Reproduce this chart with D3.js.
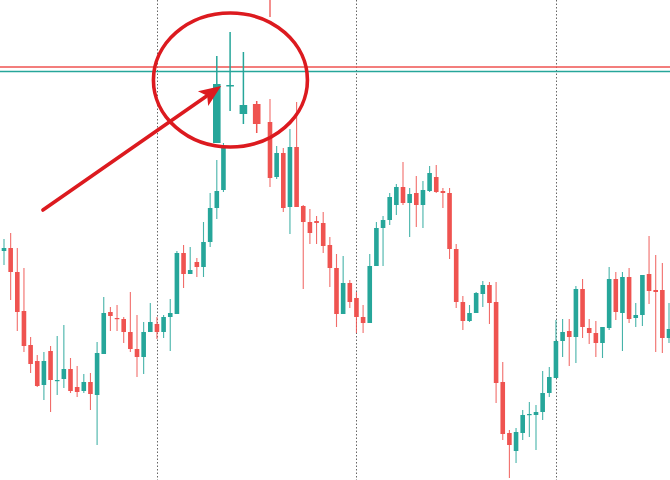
<!DOCTYPE html>
<html><head><meta charset="utf-8">
<script src="https://cdn.jsdelivr.net/npm/d3@7/dist/d3.min.js"></script>
<style>html,body{margin:0;padding:0;background:#fff;overflow:hidden}svg{display:block}</style>
</head><body>
<script>
// Candle values (price units)
const opens = [229,232,208,169,135,119,95,129,99,101, 111,93,89,98,85,126,168,162,161,148, 131,123,148,156,148,163,166,227,206,218, 213,238,272,290,null,null,null,null,null,null, 358,303,327,273,333,274,258,259,257,235, 212,166,197,182,163,157,214,252,260,275, 293,277,287,275,289,303,289,287,231,178, 159,167,186,195,178,98,47,29,47,65, 65,68,87,102,139,149,143,191,152,147, 137,152,201,167,203,162,165,206,190,190,142];
const highs = [241,247,232,212,143,125,128,134,144,155, 122,114,106,107,138,183,173,175,163,188, 165,158,177,163,165,181,229,235,233,222, 258,287,320,337,null,null,null,null,null,null, 381,334,332,351,378,275,271,264,268,243, 226,224,200,188,175,226,258,264,287,296, 318,292,304,299,314,315,292,292,236,184, 175,188,199,198,198,118,50,52,70,78, 75,109,113,160,161,161,194,201,161,159, 153,213,208,208,212,177,205,244,225,217,177];
const lows = [215,180,149,128,107,93,80,68,85,92, 87,83,87,70,35,126,149,149,137,128, 103,106,148,141,142,129,166,192,206,203, 203,233,261,288,null,null,null,null,null,null, 293,301,268,246,273,191,236,236,227,193, 153,166,172,147,147,157,214,214,255,265, 275,243,253,252,288,287,272,221,172,150, 158,167,173,156,77,40,2,17,40,43, 30,60,83,102,123,114,117,142,136,123, 122,150,160,129,157,153,154,176,128,127,137];
const closes = [232,208,168,134,116,94,119,100,100,111, 89,88,98,86,127,167,164,161,148,131, 123,148,158,148,163,167,227,206,210,213, 238,272,289,332,null,null,null,null,null,null, 302,327,272,333,273,258,247,257,234,212, 166,197,178,163,157,214,252,260,283,293, 277,286,275,290,307,288,287,231,178,159, 167,187,195,177,97,46,35,48,65,66, 68,87,103,139,148,143,191,153,147,137, 153,201,168,203,161,165,205,189,188,142,151];

// Highlighted (circled) candles
const hiIdx = [32,34,36,38];
const hiOpen = [337,395,366,376];
const hiHigh = [424,448,428,379];
const hiLow = [337,369,356,347];
const hiClose = [396,395,375,356];

// Period separators (candle index)
const separators = [23,53,83];
// Horizontal levels
const levelValues = [413,408.5];
const levelColors = ["#ef5350","#26a69a"];
// Spike line at the top
const spike = {idx:40, from:463, to:490};
// Annotation: circle and arrow (index / price)
const circle = {idx:34.05, val:400, rx:77, ry:67};
const arrow = {fromIdx:5.85, fromVal:270, toIdx:32.65, toVal:394};

const W=670,H=480;
const UP="#26a69a", DOWN="#ef5350", ANN="#dc1a1f";
const svg=d3.select("body").append("svg").attr("width",W).attr("height",H);
const x=d3.scaleLinear().domain([0,100]).range([4,669]);
const y=d3.scaleLinear().domain([0,480]).range([480,0]);

// separators
svg.selectAll("line.sep").data(separators).join("line").attr("class","sep")
  .attr("x1",d=>Math.round(x(d))+0.5).attr("x2",d=>Math.round(x(d))+0.5)
  .attr("y1",0).attr("y2",H).attr("stroke","#666").attr("stroke-width",1)
  .attr("stroke-dasharray","1.5,2");

const data=d3.range(opens.length).map(i=>({i,o:opens[i],h:highs[i],l:lows[i],c:closes[i]})).filter(d=>d.o!=null);
const g=svg.append("g");
g.selectAll("line.wick").data(data).join("line")
  .attr("x1",d=>x(d.i)).attr("x2",d=>x(d.i))
  .attr("y1",d=>y(d.h)).attr("y2",d=>y(d.l))
  .attr("stroke",d=>d.c>=d.o?UP:DOWN).attr("stroke-width",1.1).attr("stroke-opacity",0.85);
g.selectAll("rect.body").data(data).join("rect")
  .attr("x",d=>x(d.i)-2.3).attr("width",4.6)
  .attr("y",d=>y(Math.max(d.o,d.c)))
  .attr("height",d=>Math.max(1.2,Math.abs(y(d.o)-y(d.c))))
  .attr("fill",d=>d.c>=d.o?UP:DOWN);

// spike line
svg.append("line").attr("x1",x(spike.idx)).attr("x2",x(spike.idx))
  .attr("y1",y(spike.from)).attr("y2",y(spike.to)).attr("stroke",DOWN).attr("stroke-width",1.3);

// levels
svg.selectAll("line.lvl").data(levelValues).join("line")
  .attr("x1",0).attr("x2",W).attr("y1",d=>y(d)).attr("y2",d=>y(d))
  .attr("stroke",(d,i)=>levelColors[i]).attr("stroke-width",1.3);

// highlighted candles
const hd=hiIdx.map((v,k)=>({i:v,o:hiOpen[k],h:hiHigh[k],l:hiLow[k],c:hiClose[k]}));
svg.selectAll("line.hw").data(hd).join("line")
  .attr("x1",d=>x(d.i)).attr("x2",d=>x(d.i)).attr("y1",d=>y(d.h)).attr("y2",d=>y(d.l))
  .attr("stroke",d=>d.c>=d.o?UP:DOWN).attr("stroke-width",1.5);
svg.selectAll("rect.hb").data(hd).join("rect")
  .attr("x",d=>x(d.i)-3.8).attr("width",7.6)
  .attr("y",d=>y(Math.max(d.o,d.c)))
  .attr("height",d=>Math.max(1.5,Math.abs(y(d.o)-y(d.c))))
  .attr("fill",d=>d.c>=d.o?UP:DOWN);

// circle
svg.append("ellipse").attr("cx",x(circle.idx)).attr("cy",y(circle.val))
  .attr("rx",circle.rx).attr("ry",circle.ry).attr("fill","none")
  .attr("stroke",ANN).attr("stroke-width",3.6);

// arrow
const x1=x(arrow.fromIdx),y1=y(arrow.fromVal),x2=x(arrow.toIdx),y2=y(arrow.toVal);
const ang=Math.atan2(y2-y1,x2-x1), L=22, Wd=9;
const bx=x2-L*Math.cos(ang), by=y2-L*Math.sin(ang);
svg.append("line").attr("x1",x1).attr("y1",y1).attr("x2",bx+4*Math.cos(ang)).attr("y2",by+4*Math.sin(ang))
  .attr("stroke",ANN).attr("stroke-width",3.6).attr("stroke-linecap","round");
svg.append("path").attr("d",`M${x2},${y2}L${bx+Wd*Math.sin(ang)},${by-Wd*Math.cos(ang)}L${bx+5*Math.cos(ang)},${by+5*Math.sin(ang)}L${bx-Wd*Math.sin(ang)},${by+Wd*Math.cos(ang)}Z`)
  .attr("fill",ANN);
</script>
</body></html>
